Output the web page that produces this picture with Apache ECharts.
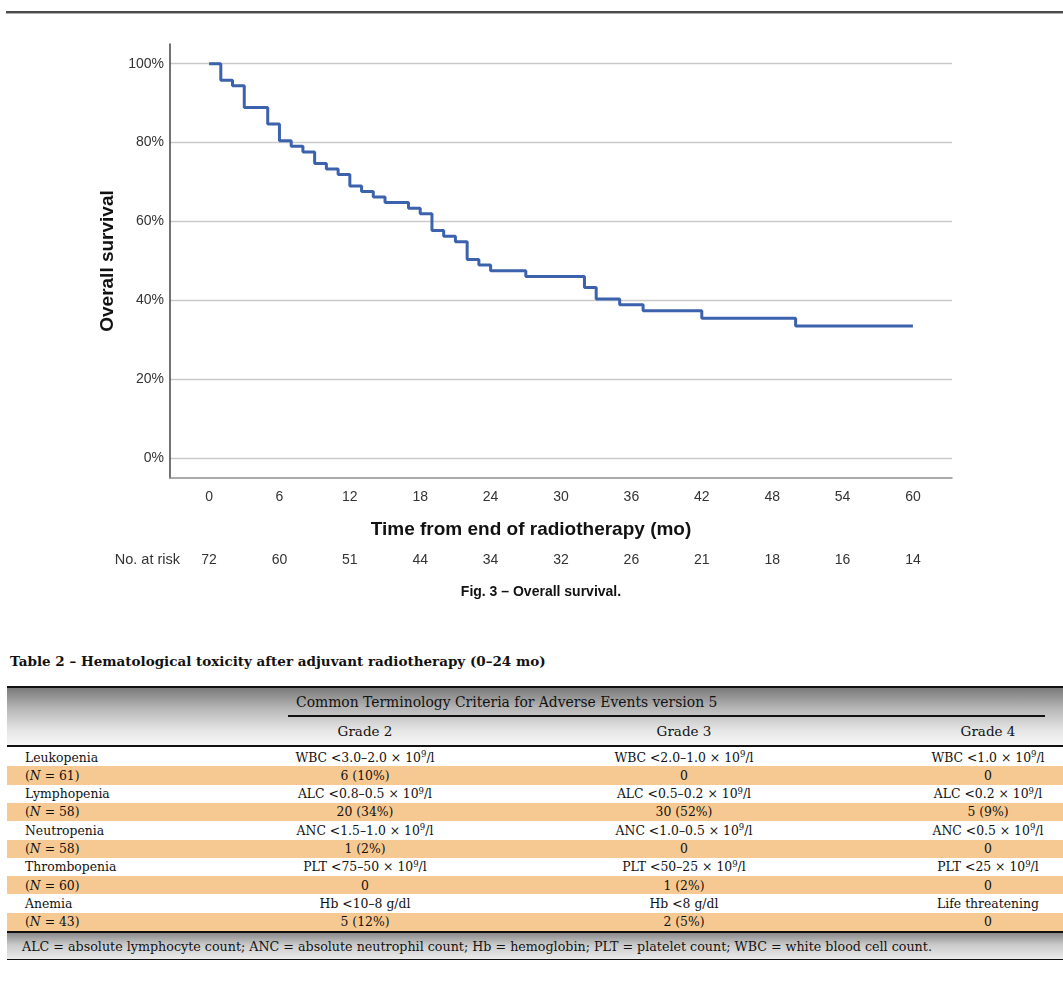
<!DOCTYPE html>
<html>
<head>
<meta charset="utf-8">
<script src="https://cdn.jsdelivr.net/npm/echarts@6/dist/echarts.min.js"></script>
<style>
  html, body { margin: 0; padding: 0; background: #fff; }
  body { width: 1063px; height: 985px; position: relative; overflow: hidden; }
  #chart { position: absolute; left: 0; top: 0; width: 1063px; height: 610px; }
  .rule { position: absolute; left: 6px; right: 0; top: 11px; height: 2px; background: #4a4a4a; border-bottom: 1px solid #b0b0b0; }
  .t { position: absolute; font-family: "DejaVu Serif", serif; color: #111; white-space: nowrap; }
  .cell { position: absolute; font-family: "DejaVu Serif", serif; font-size: 12.4px; color: #111; white-space: nowrap; text-align: center; }
  .band { position: absolute; left: 7px; right: 0; }
  sup { font-size: 8.5px; vertical-align: 0; position: relative; top: -4.5px; }
</style>
</head>
<body>
<div class="rule"></div>
<div id="chart"></div>
<div id="table"></div>
<script>
// ---------------- Chart data ----------------
const months   = [0, 1, 2, 3, 5, 6, 7, 8, 9, 10, 11, 12, 13, 14, 15, 17, 18, 19, 20, 21, 22, 23, 24, 27, 32, 33, 35, 37, 42, 50, 60];
const survival = [100, 95.8, 94.4, 88.9, 84.7, 80.5, 79.1, 77.6, 74.7, 73.3, 71.9, 69.0, 67.6, 66.2, 64.8, 63.4, 62.0, 57.7, 56.3, 54.9, 50.4, 49.0, 47.5, 46.1, 43.3, 40.4, 38.9, 37.4, 35.5, 33.5, 33.5];
const xTicks   = [0, 6, 12, 18, 24, 30, 36, 42, 48, 54, 60];
const yTicks   = [0, 20, 40, 60, 80, 100];
const atRisk   = [72, 60, 51, 44, 34, 32, 26, 21, 18, 16, 14];

// ---------------- Table data ----------------
const tableTitle   = 'Table 2 – Hematological toxicity after adjuvant radiotherapy (0–24 mo)';
const headerSpan   = 'Common Terminology Criteria for Adverse Events version 5';
const gradeHeads   = ['Grade 2', 'Grade 3', 'Grade 4'];
const toxicities   = ['Leukopenia', 'Lymphopenia', 'Neutropenia', 'Thrombopenia', 'Anemia'];
const nCounts      = [61, 58, 58, 60, 43];
const grade2Crit   = ['WBC <3.0–2.0 × 10<sup>9</sup>/l', 'ALC <0.8–0.5 × 10<sup>9</sup>/l', 'ANC <1.5–1.0 × 10<sup>9</sup>/l', 'PLT <75–50 × 10<sup>9</sup>/l', 'Hb <10–8 g/dl'];
const grade3Crit   = ['WBC <2.0–1.0 × 10<sup>9</sup>/l', 'ALC <0.5–0.2 × 10<sup>9</sup>/l', 'ANC <1.0–0.5 × 10<sup>9</sup>/l', 'PLT <50–25 × 10<sup>9</sup>/l', 'Hb <8 g/dl'];
const grade4Crit   = ['WBC <1.0 × 10<sup>9</sup>/l', 'ALC <0.2 × 10<sup>9</sup>/l', 'ANC <0.5 × 10<sup>9</sup>/l', 'PLT <25 × 10<sup>9</sup>/l', 'Life threatening'];
const grade2Count  = ['6 (10%)', '20 (34%)', '1 (2%)', '0', '5 (12%)'];
const grade3Count  = ['0', '30 (52%)', '0', '1 (2%)', '2 (5%)'];
const grade4Count  = ['0', '5 (9%)', '0', '0', '0'];
const footnote     = 'ALC = absolute lymphocyte count; ANC = absolute neutrophil count; Hb = hemoglobin; PLT = platelet count; WBC = white blood cell count.';

// ---------------- Chart ----------------
const chart = echarts.init(document.getElementById('chart'), null, { renderer: 'canvas' });
const sansFont = '"Liberation Sans", Arial, sans-serif';
chart.setOption({
  animation: false,
  grid: { left: 170, right: 111, top: 44, bottom: 132 },
  xAxis: [{
    type: 'value', min: -3.33, max: 63.33,
    axisLine: { show: true, onZero: false, lineStyle: { color: '#8f8f8f', width: 1.5 } },
    axisTick: { show: false, customValues: xTicks },
    axisLabel: { customValues: xTicks, fontSize: 14, color: '#333', margin: 12, fontFamily: sansFont },
    splitLine: { show: false },
    name: 'Time from end of radiotherapy (mo)', nameLocation: 'middle', nameGap: 42,
    nameTextStyle: { fontSize: 19, fontWeight: 'bold', color: '#111', fontFamily: sansFont, padding: [0, 60, 0, 0] }
  }, {
    type: 'value', min: -3.33, max: 63.33, position: 'bottom', offset: 82,
    axisLine: { show: false, onZero: false }, axisTick: { show: false, customValues: xTicks },
    axisLabel: {
      customValues: xTicks, fontSize: 14, color: '#333', margin: 0, verticalAlign: 'middle', fontFamily: sansFont,
      formatter: v => { const i = xTicks.indexOf(Math.round(v)); return i >= 0 ? String(atRisk[i]) : ''; }
    },
    splitLine: { show: false },
    name: 'No. at risk', nameLocation: 'start', nameGap: -10,
    nameTextStyle: { fontSize: 14.5, color: '#333', fontFamily: sansFont, verticalAlign: 'middle' }
  }],
  yAxis: {
    type: 'value', min: -5, max: 105,
    axisLine: { show: true, onZero: false, lineStyle: { color: '#444', width: 1.5 } },
    axisTick: { show: false, customValues: yTicks },
    axisLabel: { customValues: yTicks, formatter: v => v + '%', fontSize: 14, color: '#333', margin: 6, fontFamily: sansFont },
    splitLine: { show: true, lineStyle: { color: '#c9c9c9', width: 1.3 } },
    name: 'Overall survival', nameLocation: 'middle', nameGap: 42,
    nameTextStyle: { fontSize: 19, fontWeight: 'bold', color: '#111', fontFamily: sansFont }
  },
  graphic: [{
    type: 'text', x: 541, y: 592,
    style: { text: 'Fig. 3 – Overall survival.', align: 'center', verticalAlign: 'middle', font: 'bold 14px "Liberation Sans", Arial, sans-serif', fill: '#111' }
  }],
  series: [{
    type: 'line', step: 'end', xAxisIndex: 0, symbol: 'none',
    data: months.map((m, i) => [m, survival[i]]),
    lineStyle: { color: '#3d62ad', width: 3 }
  }]
});

// ---------------- Table (HTML) ----------------
const T = document.getElementById('table');
function add(html, cls, style) {
  const d = document.createElement('div');
  d.className = cls; d.innerHTML = html; d.setAttribute('style', style); T.appendChild(d); return d;
}
const tableTop = 686, headerBottom = 747, bodyTop = 748, rowH = 18.3;
const colCenters = [365, 684, 988];
const colW = 300;

add(tableTitle, 't', 'left:10px; top:653px; font-size:13.5px; font-weight:bold;');
// header band
add('', 'band', `top:${tableTop}px; height:${headerBottom - tableTop}px; background: linear-gradient(to bottom, #7a7a7a 0%, #b5b5b5 35%, #e6e6e6 75%, #f6f6f6 100%); border-top: 2.5px solid #111; border-bottom: 2px solid #111; box-sizing: border-box;`);
add(headerSpan, 't', `left:296px; top:694px; font-size:13.9px;`);
add('', 'band', `left:288px; right:18px; top:715px; height:2px; background:#111;`);
gradeHeads.forEach((g, j) => add(g, 'cell', `left:${colCenters[j] - colW / 2}px; width:${colW}px; top:723px; font-size:13.5px;`));

// body rows
const rows = [];
toxicities.forEach((name, i) => {
  rows.push({ label: name, cells: [grade2Crit[i], grade3Crit[i], grade4Crit[i]], orange: false });
  rows.push({ label: '(<i>N</i> = ' + nCounts[i] + ')', cells: [grade2Count[i], grade3Count[i], grade4Count[i]], orange: true });
});
rows.forEach((r, k) => {
  const top = bodyTop + k * rowH;
  if (r.orange) add('', 'band', `top:${top}px; height:${rowH}px; background:#f7c992;`);
  add(r.label, 'cell', `left:25px; text-align:left; top:${top + 1.5}px; line-height:${rowH - 2}px;`);
  r.cells.forEach((c, j) => add(c, 'cell', `left:${colCenters[j] - colW / 2}px; width:${colW}px; top:${top + 1.5}px; line-height:${rowH - 2}px;`));
});
const bodyBottom = bodyTop + rows.length * rowH;
// footnote band
add('', 'band', `top:${bodyBottom}px; height:${960 - bodyBottom}px; background: linear-gradient(to bottom, #8a8a8a 0%, #c9c9c9 45%, #ececec 100%); border-top: 2.5px solid #111; border-bottom: 1.5px solid #111; box-sizing: border-box;`);
add(footnote, 't', `left:22px; top:939px; font-size:12.7px;`);
</script>
</body>
</html>
